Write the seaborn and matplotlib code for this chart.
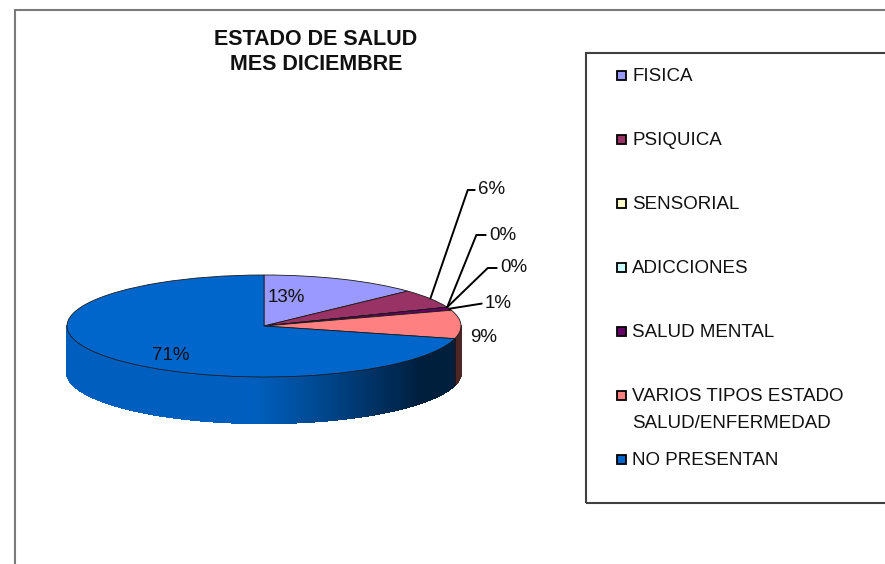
import numpy as np
import seaborn as sns
import matplotlib.pyplot as plt
from matplotlib.patches import Rectangle
from matplotlib.collections import PolyCollection
from matplotlib.colors import to_rgb

# datos del grafico
categorias = ["FISICA", "PSIQUICA", "SENSORIAL", "ADICCIONES", "SALUD MENTAL",
              "VARIOS TIPOS ESTADO\nSALUD/ENFERMEDAD", "NO PRESENTAN"]
porcentajes = [13, 6, 0, 0, 1, 9, 71]
colores = ["#9999FF", "#993366", "#FFFFCC", "#CCFFFF", "#660066", "#FF8080", "#0066CC"]

sns.set_theme(style="white")
plt.rcParams["font.family"] = ["Liberation Sans", "DejaVu Sans"]

W, H = 885, 564
fig = plt.figure(figsize=(W / 100, H / 100), dpi=100)
ax = fig.add_axes([0, 0, 1, 1])

# geometria del pastel inclinado (en pixeles)
cx, cy, rx, ry, prof = 264, 326, 197, 51, 46
d = prof / ry


def px(x, y):
    """pixel de la imagen -> coordenadas de datos"""
    return (x - cx) / rx, (cy - y) / ry


wedges, _ = ax.pie(porcentajes, colors=colores, startangle=90, counterclock=False,
                   wedgeprops=dict(edgecolor="#1a1a1a", linewidth=0.6, zorder=3))
ax.set_aspect("auto")
ax.set_xlim(-cx / rx, (W - cx) / rx)
ax.set_ylim(-(H - cy) / ry, cy / ry)
ax.axis("off")

# cara lateral (parte frontal visible) con sombreado hacia la derecha
polys, caras = [], []
borde_x, borde_y, borde_c = [], [], []
for w, col in zip(wedges, colores):
    base = np.array(to_rgb(col))
    for k in (-1, 0, 1):
        a0 = max(w.theta1, k * 360 - 180)
        a1 = min(w.theta2, k * 360)
        if a1 <= a0:
            continue
        t = np.radians(np.linspace(a0, a1, max(2, int((a1 - a0) / 1.0) + 2)))
        for t0, t1 in zip(t[:-1], t[1:]):
            polys.append([(np.cos(t0), np.sin(t0)), (np.cos(t1), np.sin(t1)),
                          (np.cos(t1), np.sin(t1) - d), (np.cos(t0), np.sin(t0) - d)])
            c = np.cos((t0 + t1) / 2)
            f = 0.93 - 0.63 * np.clip((c + 0.05) / 0.85, 0, 1) ** 1.1
            caras.append(np.clip(base * f, 0, 1))
        for ang in (a0, a1):
            if k * 360 - 180 < ang < k * 360:
                r = np.radians(ang)
                ax.plot([np.cos(r)] * 2, [np.sin(r), np.sin(r) - d], color="#2a1010", lw=0.5, zorder=2.5)
ax.add_collection(PolyCollection(polys, facecolors=caras, edgecolors=caras, linewidths=1.0,
                                 antialiaseds=False, zorder=2))
# borde inferior suavizado
segs = [[p[3], p[2]] for p in polys]
from matplotlib.collections import LineCollection
ax.add_collection(LineCollection(segs, colors=caras, linewidths=1.0, zorder=2.2))

# etiquetas de porcentaje: (x, y en pixeles, angulo de la guia o None)
pos_etiquetas = [(286, 297, None), (478, 190, 71), (489, 235, 68), (500, 268, 44),
                 (485, 303, 9), (470, 337, None), (171, 355, None)]
for w, p, (lx, ly, ang) in zip(wedges, porcentajes, pos_etiquetas):
    txt = f"{p}%"
    if ang is None:
        ha = "center" if lx < cx + rx else "left"
        ax.text(*px(lx, ly), txt, ha=ha, va="center", fontsize=13.5, color="#111111", zorder=5)
    else:
        mid = np.radians((w.theta1 + w.theta2) / 2)
        ax.annotate(txt, xy=(np.cos(mid), np.sin(mid)), xytext=px(lx, ly),
                    ha="left", va="center", fontsize=13.5, color="#111111", zorder=5,
                    arrowprops=dict(arrowstyle="-", color="black", lw=1.4, shrinkA=0, shrinkB=0,
                                    connectionstyle=f"angle,angleA=0,angleB={ang},rad=0"))

# titulo
fig.text(316 / W, 1 - 52 / H, "ESTADO DE SALUD\nMES DICIEMBRE", ha="center", va="center",
         fontsize=15.5, fontweight="bold", linespacing=1.2, color="#111111")

# marcos
fig.add_artist(Rectangle((15 / W, -0.1), 1.2, 1.1 - 10 / H, transform=fig.transFigure,
                         fill=False, ec="#7a7a7a", lw=1.5))
fig.add_artist(Rectangle((586 / W, 1 - 503 / H), 0.6, (503 - 53) / H, transform=fig.transFigure,
                         fill=False, ec="#404040", lw=1.5))

# leyenda
for i, (nombre, col) in enumerate(zip(categorias, colores)):
    yc = 75 + 64 * i
    fig.add_artist(Rectangle((616.5 / W, 1 - (yc + 5) / H), 9 / W, 9 / H,
                             transform=fig.transFigure, fc=col, ec="black", lw=1.3))
    fig.text(632 / W, 1 - (yc - 7) / H, nombre, ha="left", va="top",
             fontsize=13.5, linespacing=1.75, color="#111111")

fig.savefig("out.png", dpi=100)
